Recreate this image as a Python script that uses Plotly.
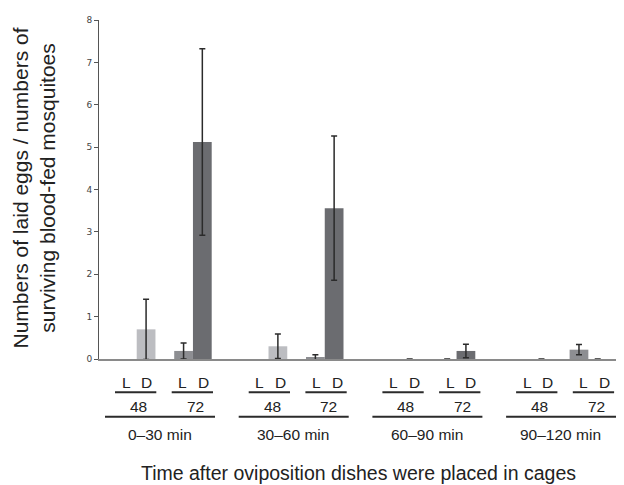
import plotly.graph_objects as go

# ---- data ----
periods = ["0–30 min", "30–60 min", "60–90 min", "90–120 min"]
hours = ["48", "72"]
lights = ["L", "D"]

l48 = [0.70, 0.30, 0.0, 0.0]
d48 = [0.0, 0.0, 0.0, 0.0]
l72 = [0.19, 0.04, 0.0, 0.22]
d72 = [5.12, 3.56, 0.19, 0.0]

l48_err = [0.71, 0.29, 0.0, 0.0]
d48_err = [0.0, 0.0, 0.0, 0.0]
l72_err = [0.19, 0.06, 0.0, 0.12]
d72_err = [2.20, 1.70, 0.16, 0.0]

y_ticks = [0, 1, 2, 3, 4, 5, 6, 7, 8]

# ---- layout constants (page pixels; the page body has an 8px margin) ----
BODY = 8
W, H = 624 - BODY, 485 - BODY
PL, PR, PT, PB = 99, 624, 20, 359


def fx(p):
    return (p - PL) / (PR - PL)


def fy(p):
    return (PB - p) / (PB - PT)


xs = list(range(len(periods)))
series = [
    (l48, l48_err, "#bcbdc1", "48 L", True),
    (d48, d48_err, "#6b6c70", "48 D", False),
    (l72, l72_err, "#8d8e92", "72 L", True),
    (d72, d72_err, "#6b6c70", "72 D", True),
]

fig = go.Figure()
for vals, errs, col, name, show_err in series:
    fig.add_trace(go.Bar(
        x=xs, y=vals, name=name,
        marker=dict(color=col, line=dict(width=0)),
        error_y=dict(type="data", array=errs, visible=show_err,
                     color="#2b2b2b", thickness=1.5, width=3),
        cliponaxis=False,
    ))

font_main = "Liberation Sans, Arial, sans-serif"
annotations = []
shapes = []

# y axis title
annotations.append(dict(
    text="Numbers of laid eggs / numbers of<br>surviving blood-fed mosquitoes",
    x=fx(33.5), y=fy(188), xref="paper", yref="paper",
    textangle=-90, showarrow=False, xanchor="center", yanchor="middle",
    font=dict(family=font_main, size=21, color="#222222"),
))

# x axis title
annotations.append(dict(
    text="Time after oviposition dishes were placed in cages",
    x=fx(358), y=fy(486), xref="paper", yref="paper",
    showarrow=False, xanchor="center", yanchor="bottom",
    font=dict(family=font_main, size=19.5, color="#222222"),
))

lab_font = dict(family=font_main, size=15.5, color="#222222")
for g, per in enumerate(periods):
    s = 105 + 133.7 * g
    for h_i, hr in enumerate(hours):
        off = 56.7 * h_i
        for l_i, lt in enumerate(lights):
            annotations.append(dict(
                text=lt, x=fx(s + 21 + off + 20.7 * l_i), y=fy(382.5),
                xref="paper", yref="paper", showarrow=False,
                xanchor="center", yanchor="middle", font=lab_font))
        shapes.append(dict(type="line", xref="paper", yref="paper",
                           x0=fx(s + 10 + off), x1=fx(s + 51.3 + off),
                           y0=fy(392.3), y1=fy(392.3),
                           line=dict(color="#2b2b2b", width=2)))
        annotations.append(dict(
            text=hr, x=fx(s + 33.3 + off), y=fy(406.7),
            xref="paper", yref="paper", showarrow=False,
            xanchor="center", yanchor="middle", font=lab_font))
    shapes.append(dict(type="line", xref="paper", yref="paper",
                       x0=fx(s), x1=fx(s + 110),
                       y0=fy(416.7), y1=fy(416.7),
                       line=dict(color="#2b2b2b", width=2)))
    annotations.append(dict(
        text=per, x=fx(s + 54.5), y=fy(434),
        xref="paper", yref="paper", showarrow=False,
        xanchor="center", yanchor="middle", font=lab_font))

fig.update_layout(
    width=W, height=H,
    margin=dict(l=PL - BODY, r=0, t=PT - BODY, b=(H + BODY) - PB, pad=0),
    paper_bgcolor="white", plot_bgcolor="white",
    barmode="group", bargap=0.431, bargroupgap=0,
    showlegend=False,
    xaxis=dict(range=[-0.5706, 3.4127], showticklabels=False, ticks="",
               showgrid=False, zeroline=False, showline=True,
               linecolor="#8a8a8a", linewidth=2),
    yaxis=dict(range=[0, 8], tickvals=y_ticks, ticks="outside", ticklen=4,
               tickcolor="#555555", tickwidth=1,
               showgrid=False, zeroline=False, showline=True,
               linecolor="#555555", linewidth=1,
               tickfont=dict(family="DejaVu Sans, Verdana, sans-serif",
                             size=9, color="#444444")),
    annotations=annotations,
    shapes=shapes,
)

fig.write_html("out.html")
